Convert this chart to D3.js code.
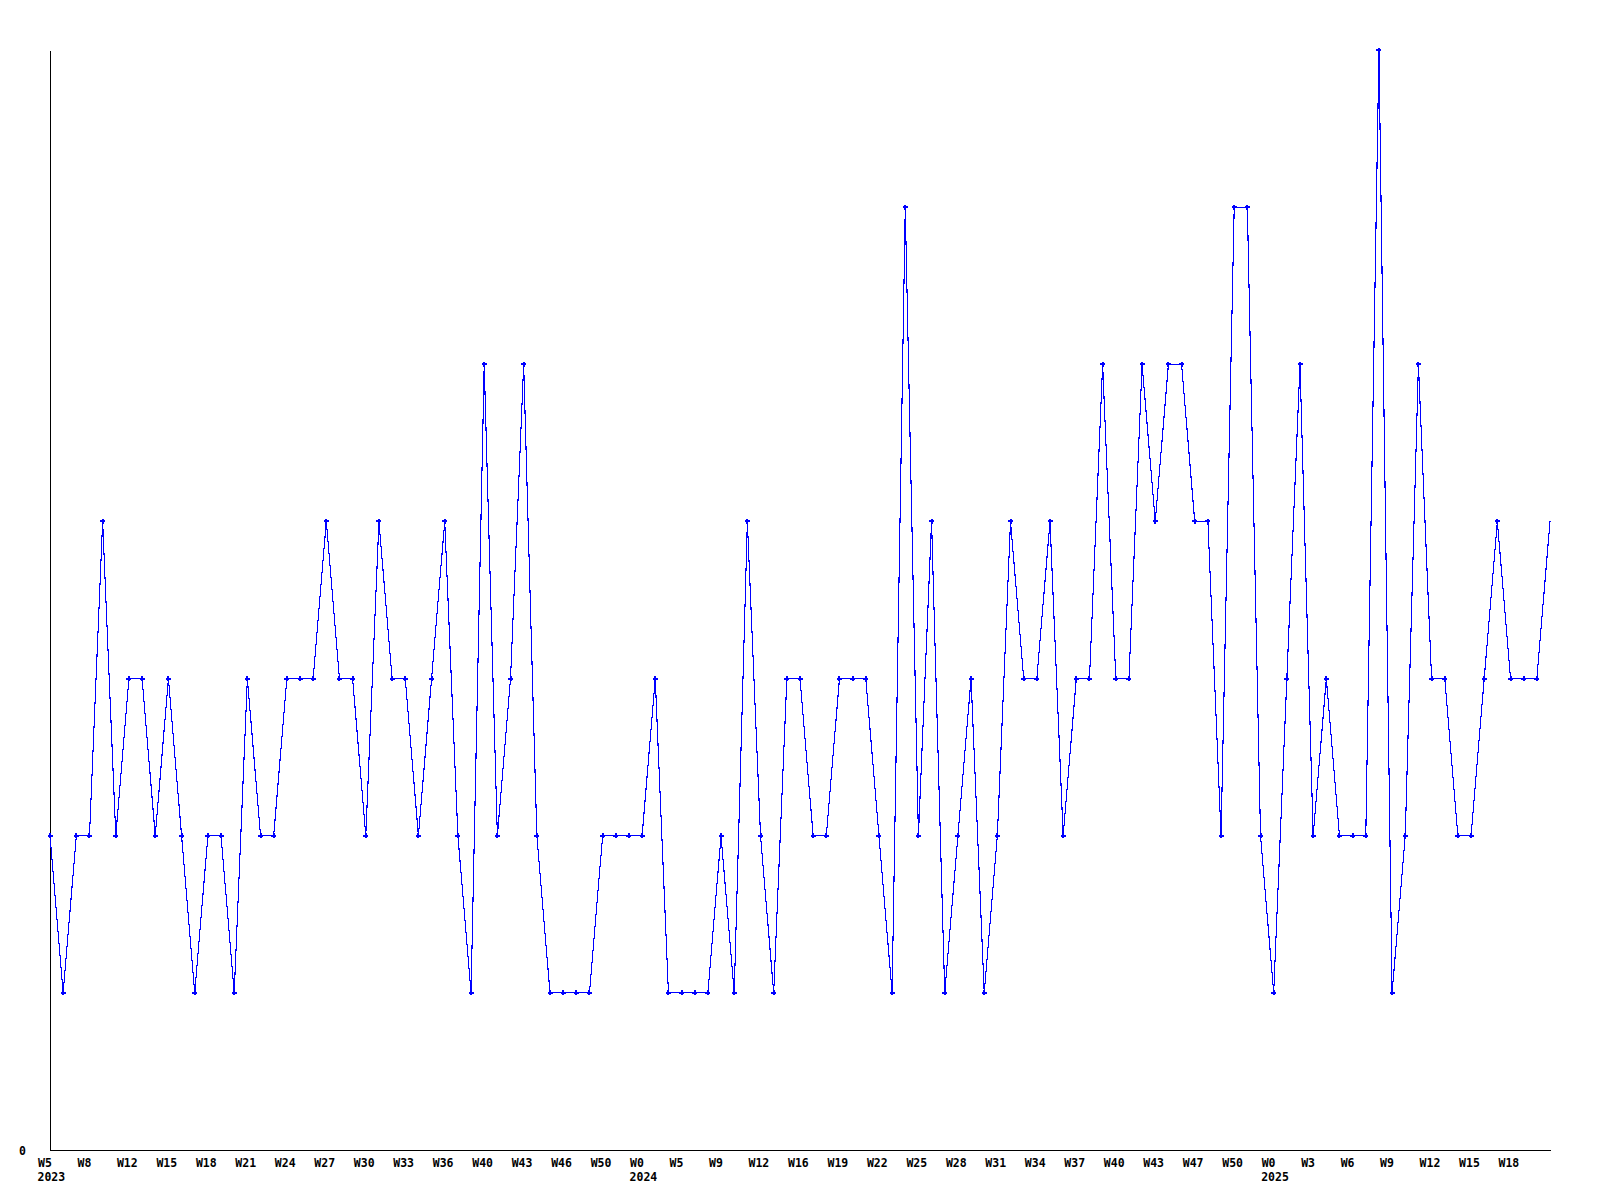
<!DOCTYPE html>
<html>
<head>
<meta charset="utf-8">
<script src="https://cdn.jsdelivr.net/npm/d3@7/dist/d3.min.js"></script>
<style>
  html, body { margin: 0; padding: 0; background: #fff; }
  svg { display: block; }
  text { font-family: "DejaVu Sans Mono", "Liberation Mono", monospace; font-weight: bold; font-size: 11.5px; fill: #000; }
</style>
</head>
<body>
<svg id="chart" width="1600" height="1200"></svg>
<script>
// Weekly values (one per point)
const values = [
  2,1,2,2,4,2,3,3,2,3,
  2,1,2,2,1,3,2,2,3,3,
  3,4,3,3,2,4,3,3,2,3,
  4,2,1,5,2,3,5,2,1,1,
  1,1,2,2,2,2,3,1,1,1,
  1,2,1,4,2,1,3,3,2,2,
  3,3,3,2,1,6,2,4,1,2,
  3,1,2,4,3,3,4,2,3,3,
  5,3,3,5,4,5,5,4,4,2,
  6,6,2,1,3,5,2,3,2,2,
  2,7,1,2,5,3,3,2,2,3,
  4,3,3,3,4
];
// Tick labels, one every 3 points
const tickLabels = [
  "W5","W8","W12","W15","W18","W21","W24","W27","W30","W33","W36","W40","W43","W46","W50",
  "W0","W5","W9","W12","W16","W19","W22","W25","W28","W31","W34","W37","W40","W43","W47","W50",
  "W0","W3","W6","W9","W12","W15","W18"
];
const yearLabels = ["2023","2024","2025"];
const yearTickIndex = [0, 15, 31]; // index into tickLabels where a year starts
const tickStep = 3;

const svg = d3.select("#chart");
const x = d3.scaleLinear().domain([0, values.length - 1]).range([50, 1550]);
const y = d3.scaleLinear().domain([0, 7]).range([1150, 50]);

const tickVals = tickLabels.map((_, i) => i * tickStep);

// X axis
const xAxis = d3.axisBottom(x)
  .tickValues(tickVals)
  .tickSize(0)
  .tickSizeOuter(0)
  .tickFormat((d, i) => tickLabels[i]);
const gx = svg.append("g").attr("transform", "translate(0,1150)").call(xAxis);
gx.select(".domain").attr("stroke", "#000").attr("stroke-width", 1).attr("shape-rendering", "crispEdges");
gx.selectAll(".tick text")
  .attr("text-anchor", "start")
  .attr("dx", -12.5)
  .attr("y", 17)
  .attr("dy", 0)
  .style("font-family", "'DejaVu Sans Mono', monospace")
  .style("font-weight", "bold")
  .style("font-size", "11.5px")
  .attr("fill", "#000");

// Year labels
svg.append("g").selectAll("text")
  .data(yearLabels)
  .join("text")
  .attr("x", (d, i) => x(tickVals[yearTickIndex[i]]) - 12.5)
  .attr("y", 1181)
  .attr("text-anchor", "start")
  .text(d => d);

// Y axis
const yAxis = d3.axisLeft(y).tickValues([0]).tickSize(0).tickSizeOuter(0).tickFormat(d3.format("d"));
const gy = svg.append("g").attr("transform", "translate(50,0)").call(yAxis);
gy.select(".domain").attr("stroke", "#000").attr("stroke-width", 1).attr("shape-rendering", "crispEdges");
gy.selectAll(".tick text")
  .attr("x", -24)
  .attr("dy", 0)
  .attr("y", 4.5)
  .attr("text-anchor", "end")
  .style("font-family", "'DejaVu Sans Mono', monospace")
  .style("font-weight", "bold")
  .style("font-size", "11.5px")
  .attr("fill", "#000");

// Line
const line = d3.line().x((d, i) => x(i)).y(d => y(d));
svg.append("path")
  .datum(values)
  .attr("d", line)
  .attr("fill", "none")
  .attr("stroke", "#0000ff")
  .attr("stroke-width", 1.1)
  .attr("shape-rendering", "crispEdges");

// Markers (small plus shapes)
const plus = "M-2.5,-1H2.5V1H-2.5Z M-1,-2.5H1V2.5H-1Z";
svg.append("g").selectAll("path")
  .data(values.slice(0, values.length - 1))
  .join("path")
  .attr("transform", (d, i) => `translate(${x(i)},${y(d)})`)
  .attr("d", plus)
  .attr("fill", "#0000ff")
  .attr("shape-rendering", "crispEdges");
</script>
</body>
</html>
